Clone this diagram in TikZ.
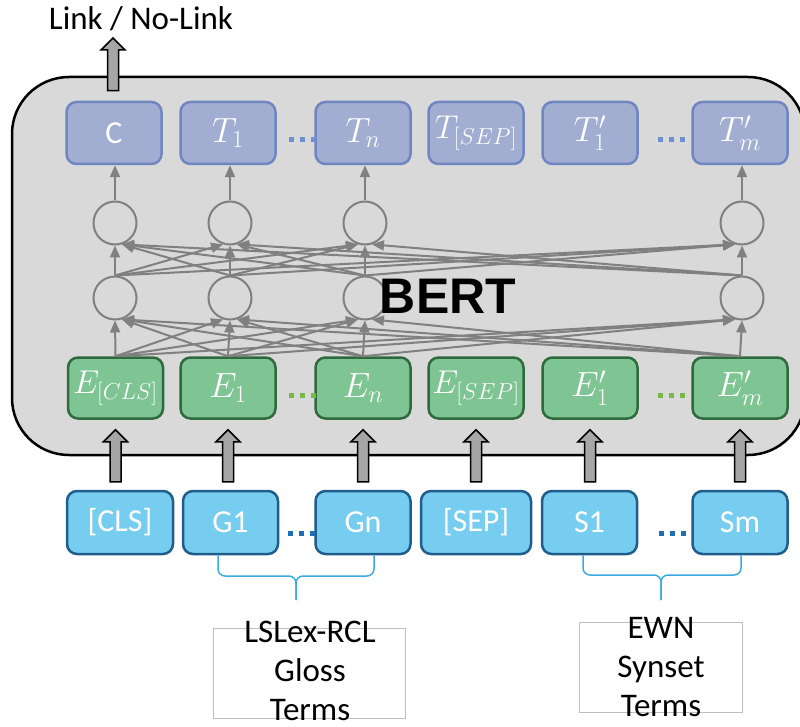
\RequirePackage{fix-cm}
\documentclass[tikz,border=0pt]{standalone}
\usepackage{fontspec}
\setmainfont{Carlito}
\newfontfamily\headfont{Liberation Sans}
\usetikzlibrary{arrows.meta,calc}

\definecolor{panelgray}{HTML}{D9D9D9}
\definecolor{outfill}{HTML}{A2ADD2}
\definecolor{outline}{HTML}{6F86C1}
\definecolor{embfill}{HTML}{7EC593}
\definecolor{embline}{HTML}{2E6A3C}
\definecolor{tokfill}{HTML}{77CDEF}
\definecolor{tokline}{HTML}{1F5E8C}
\definecolor{netgray}{HTML}{808080}
\definecolor{arrowgray}{HTML}{A6A6A6}
\definecolor{bracecol}{HTML}{3AAAE0}
\definecolor{greendot}{HTML}{7AB648}
\definecolor{bluedot}{HTML}{1F6FB5}
\definecolor{outdot}{HTML}{6F8FD0}

\tikzset{
  tbox/.style={rounded corners=10pt, line width=2.5pt, minimum width=95pt,
    minimum height=62pt, inner sep=0pt, text=white},
  outbox/.style={tbox, fill=outfill, draw=outline, font=\fontsize{35}{40}\selectfont},
  embbox/.style={tbox, fill=embfill, draw=embline, minimum height=61pt,
    font=\fontsize{35}{40}\selectfont},
  tokbox/.style={tbox, fill=tokfill, draw=tokline, minimum height=63pt,
    font=\fontsize{32}{36}\selectfont},
  neuron/.style={circle, draw=netgray, line width=2pt, minimum size=43pt, inner sep=0pt},
  link/.style={draw=netgray, line width=2pt, -{Triangle[length=12pt,width=10pt]}},
  blockarrow/.style={draw=black, line width=1.5pt, fill=arrowgray},
  dotrow/.style={line width=5pt, dash pattern=on 5pt off 6pt},
  bracket/.style={draw=bracecol, line width=1.5pt, rounded corners=7pt},
  framebox/.style={draw=black!25, line width=1pt, inner sep=0pt},
  caption/.style={font=\fontsize{33}{39}\selectfont, align=center, inner sep=0pt}
}

% thick outlined arrow pointing up: #1 = base point, #2 = tip point
\newcommand\blockup[2]{%
  \draw[blockarrow] let \p1=(#1), \p2=(#2) in
    (\x2-5.5pt,\y1) -- (\x2-5.5pt,\y2-12pt) -- (\x2-12pt,\y2-12pt) -- (\x2,\y2)
    -- (\x2+12pt,\y2-12pt) -- (\x2+5.5pt,\y2-12pt) -- (\x2+5.5pt,\y1) -- cycle;}

\begin{document}
\begin{tikzpicture}[x=1pt, y=-1pt]
\path[use as bounding box] (0,0) rectangle (800,727);
\clip (0,0) rectangle (800,727);

% BERT panel
\draw[line width=2.5pt, fill=panelgray, rounded corners=57pt] (12,77) rectangle (805,455);

% output tokens
\node[outbox] (c)    at (114,133) {\fontsize{32}{36}\selectfont C};
\node[outbox] (t1)   at (228,133) {$T_1$};
\node[outbox] (tn)   at (363,133) {$T_n$};
\node[outbox] (tsep) at (476,133) {\fontsize{33}{40}\selectfont$T_{[SEP]}$};
\node[outbox] (tp1)  at (590,133) {$T'_1$};
\node[outbox] (tpm)  at (740,133) {$T'_m$};

% hidden units
\foreach \k/\xx in {1/115,2/230,3/365,4/742}{
  \node[neuron] (u\k) at (\xx,223) {};
  \node[neuron] (n\k) at (\xx,298) {};
}

% embeddings
\node[embbox] (e0)   at (115.5,388) {\fontsize{33}{40}\selectfont$E_{[CLS]}$};
\node[embbox] (e1)   at (228,388) {$E_1$};
\node[embbox] (en)   at (363,388) {$E_n$};
\node[embbox] (esep) at (476,388) {\fontsize{33}{40}\selectfont$E_{[SEP]}$};
\node[embbox] (ep1)  at (590,388) {$E'_1$};
\node[embbox] (epm)  at (740,388) {$E'_m$};

% input tokens
\node[tokbox, minimum width=106pt] (cls) at (120,522.5) {[CLS]};
\node[tokbox] (g1)  at (230.5,522.5) {G1};
\node[tokbox] (gn)  at (363,522.5) {Gn};
\node[tokbox, minimum width=110pt] (sep) at (476,522.5) {[SEP]};
\node[tokbox] (s1)  at (589.5,522.5) {S1};
\node[tokbox] (sm)  at (740,522.5) {Sm};

% fully connected layers
\foreach \i/\s in {1/e0,2/e1,3/en,4/epm}{
  \foreach \j in {1,...,4}{
    \pgfmathtruncatemacro\ang{270+18*sign(\i-\j)}
    \draw[link] (\s.north) -- (n\j.\ang);
  }
}
\foreach \i in {1,...,4}{
  \foreach \j in {1,...,4}{
    \pgfmathtruncatemacro\ang{270+18*sign(\i-\j)}
    \draw[link] (n\i.north) -- (u\j.\ang);
  }
}
\foreach \k/\t in {1/c,2/t1,3/tn,4/tpm}{
  \draw[link] (u\k.north) -- (u\k.north |- \t.south);
}

% ellipsis dots
\draw[dotrow, outdot]   (289,140) -- (316,140);
\draw[dotrow, outdot]   (658,140) -- (685,140);
\draw[dotrow, greendot] (289,395) -- (316,395);
\draw[dotrow, greendot] (658,395) -- (685,395);
\draw[dotrow, bluedot]  (288,533) -- (315,533);
\draw[dotrow, bluedot]  (659,533) -- (686,533);

% input arrows into the encoder
\foreach \a/\b in {cls/e0,g1/e1,gn/en,sep/esep,s1/ep1,sm/epm}{
  \coordinate (base-\a) at ($(\a.north)+(0,-8)$);
  \coordinate (tip-\a) at ($(\b.south)+(0,10)$);
  \blockup{base-\a}{tip-\a}
}

% output arrow and label
\node[font=\fontsize{33}{38}\selectfont, inner sep=0pt] (linklabel) at (141,19) {Link / No-Link};
\coordinate (outbase) at ($(c.north)+(0,-10)$);
\coordinate (outtip) at (113,38);
\blockup{outbase}{outtip}

% braces under token groups
\coordinate (b1l) at ($(g1.south)+(-12.5,0)$);
\coordinate (b1r) at ($(gn.south)+(11,0)$);
\coordinate (b1m) at (296,576);
\coordinate (b1t) at (296,600);
\draw[bracket] (b1l) |- (b1m) -- (b1t);
\draw[bracket] (b1r) |- (b1m) -- (b1t);
\coordinate (b2l) at ($(s1.south)+(-6.5,0)$);
\coordinate (b2r) at ($(sm.south)+(1,0)$);
\coordinate (b2m) at (661,575);
\coordinate (b2t) at (661,600);
\draw[bracket] (b2l) |- (b2m) -- (b2t);
\draw[bracket] (b2r) |- (b2m) -- (b2t);

% source captions
\node[framebox, minimum width=192pt, minimum height=90pt] (glossframe) at (309,673) {};
\node[caption] (glosstext) at (310,671) {LSLex-RCL\\Gloss\\Terms};
\node[framebox, minimum width=163pt, minimum height=90pt] (synframe) at (660.5,667) {};
\node[caption] (syntext) at (661,667) {EWN\\Synset\\Terms};

% encoder title
\node[font=\headfont\bfseries\fontsize{50}{54}\selectfont, inner sep=0pt] (berttitle) at (448,296) {BERT};
\end{tikzpicture}
\end{document}
